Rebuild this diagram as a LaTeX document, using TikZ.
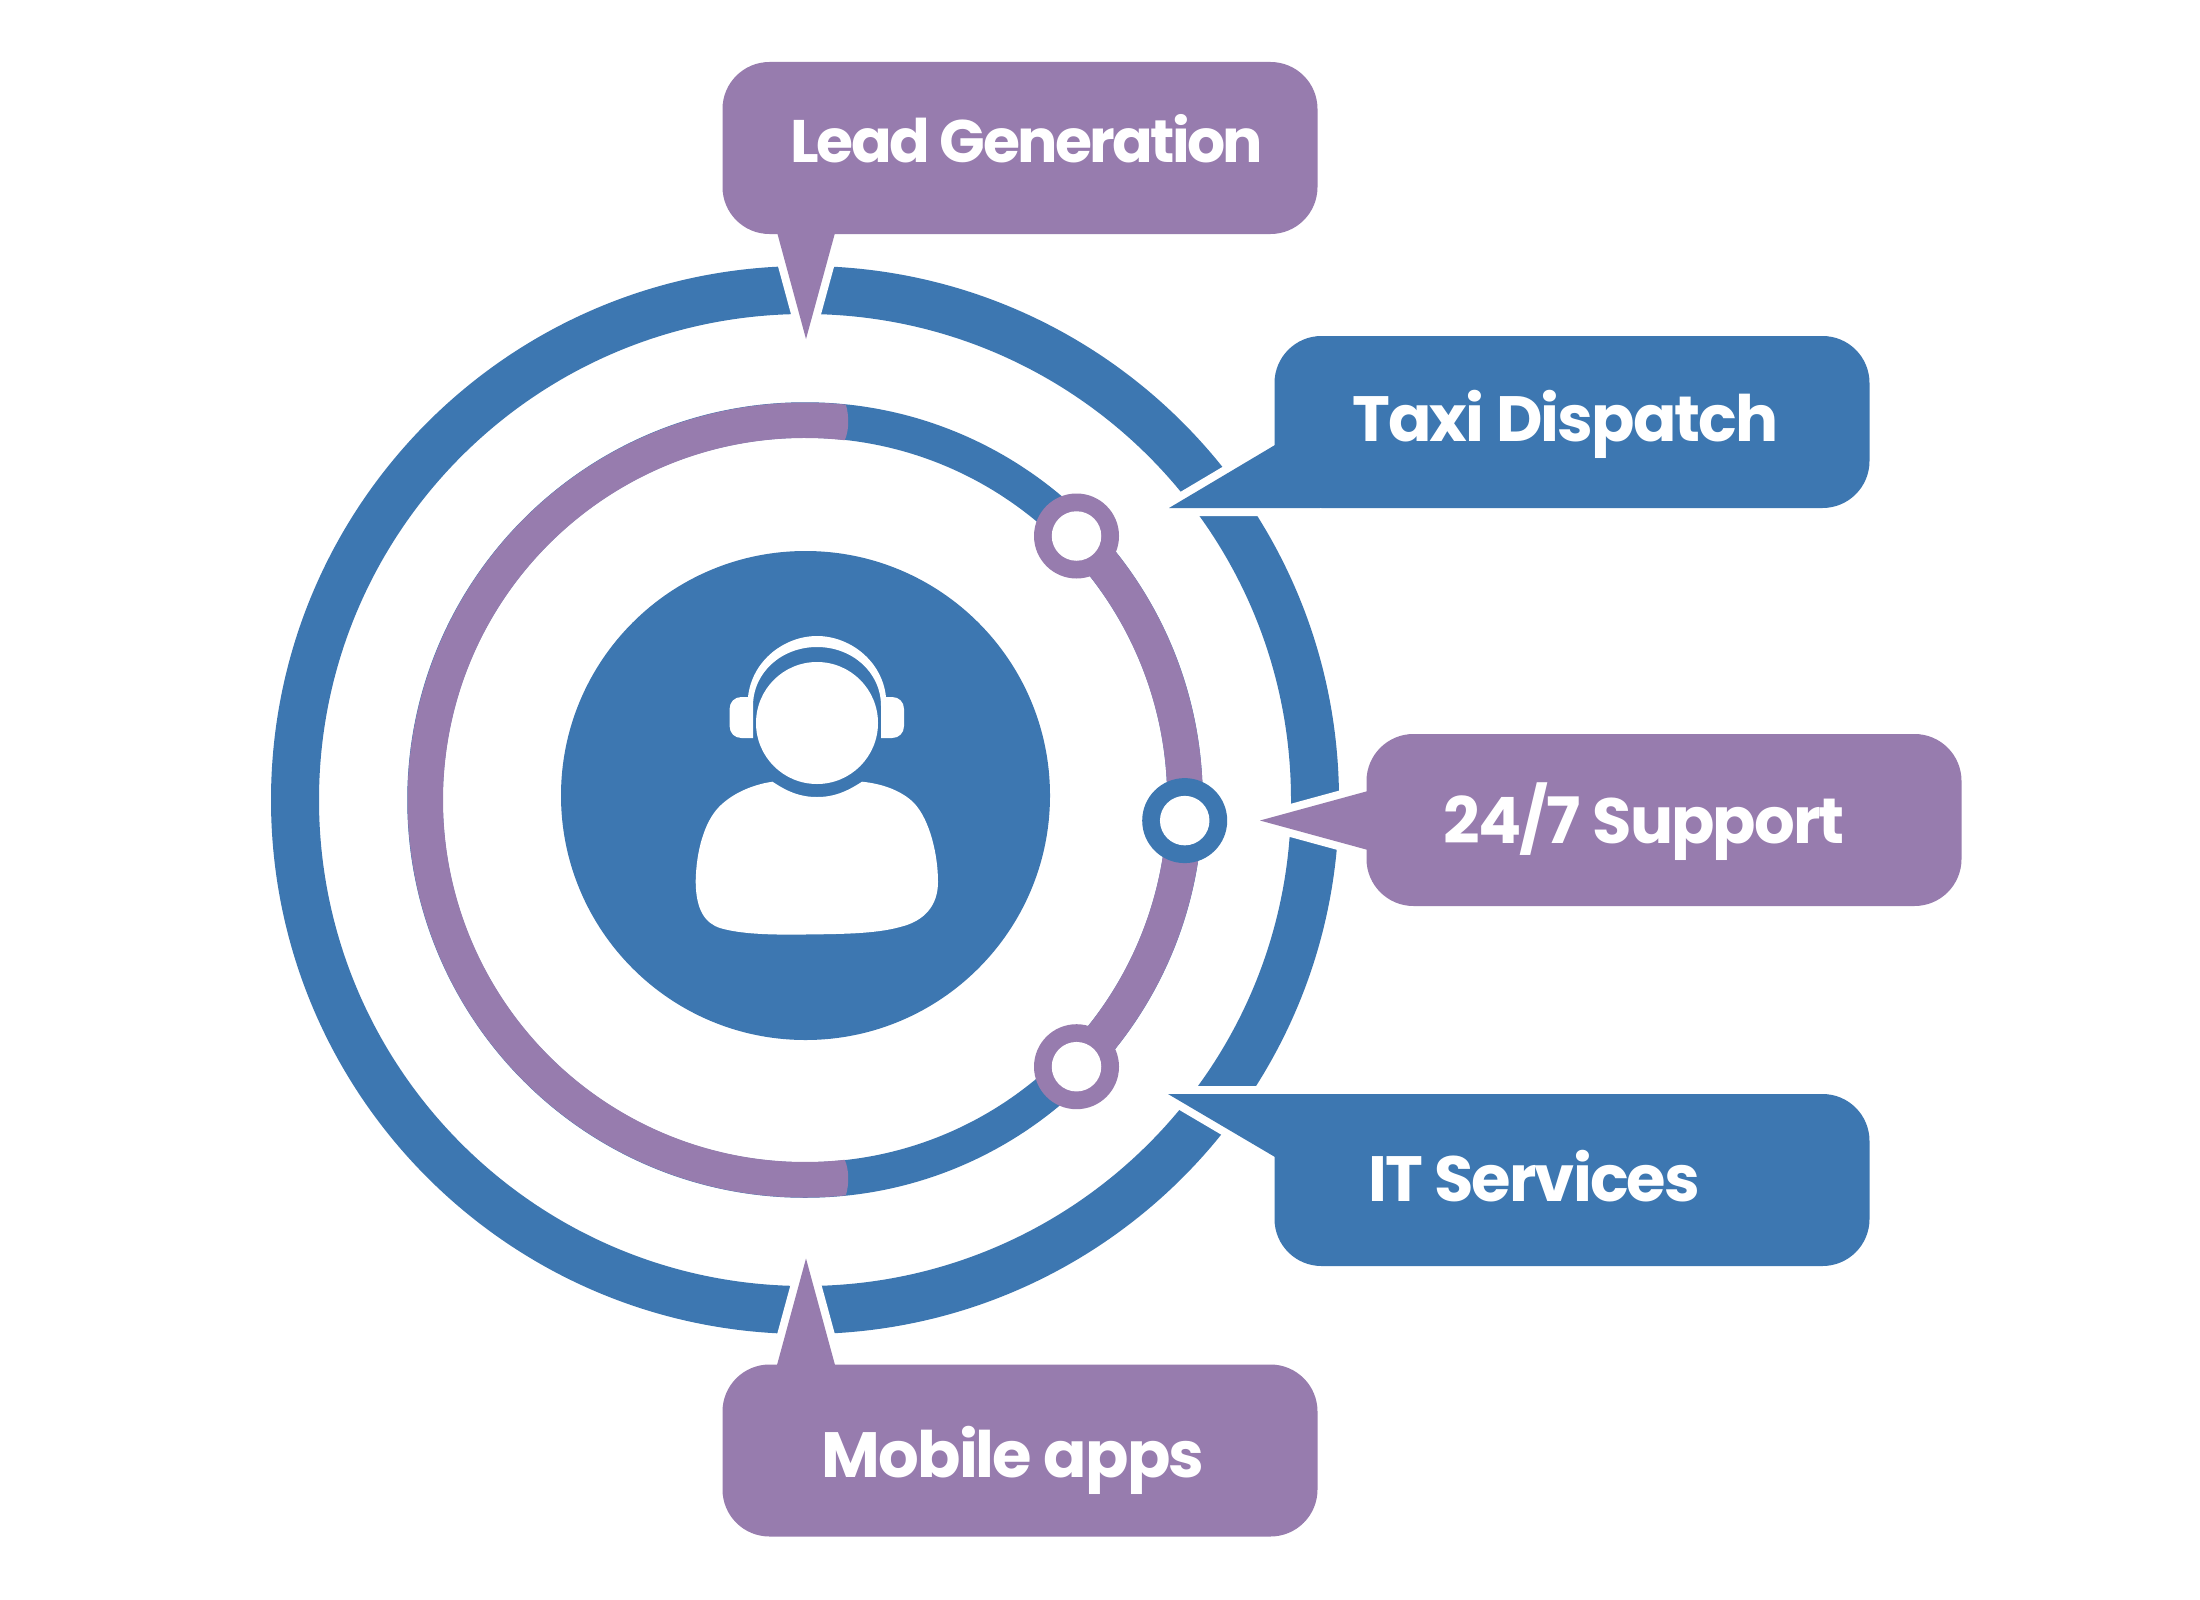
\documentclass[tikz,border=0pt]{standalone}
\usepackage{fontspec}
\newfontfamily\lblfont{Poppins}[LetterSpace=-3.0]
\newfontfamily\leadfont{Poppins}[LetterSpace=-4.4]
\definecolor{cblue}{HTML}{3D77B1}
\definecolor{cpurple}{HTML}{977CAE}
\newcommand{\calloutshape}[4]{%
  \fill[white,draw=white,line width=16pt] #4 -- cycle;
  \node[boxshape,fill=#3,preaction={draw=white,line width=16pt}] (#1) at (#2) {};
  \fill[#3] #4 -- cycle;
}
\begin{document}
\begin{tikzpicture}[x=1pt,y=-1pt,
  boxshape/.style={rectangle,rounded corners=47pt,minimum width=595pt,minimum height=172pt,inner sep=0pt,outer sep=0pt},
  lbl/.style={text=white,anchor=base,inner sep=0pt,outer sep=0pt,font=\lblfont\bfseries\fontsize{64}{64}\selectfont},
  leadlbl/.style={text=white,anchor=base,inner sep=0pt,outer sep=0pt,font=\leadfont\bfseries\fontsize{60}{60}\selectfont},
  hole/.style={circle,fill=white,minimum size=49.5pt,inner sep=0pt,outer sep=0pt},
  ringdot/.style={circle,minimum size=85pt,inner sep=0pt,outer sep=0pt}]
\useasboundingbox (0,0) rectangle (2200,1600);
\fill[white] (0,0) rectangle (2200,1600);
\coordinate (c) at (805,800);
% outer ring
\draw[cblue,line width=48pt] (c) circle[radius=510];
% middle ring
\draw[cblue,line width=35.5pt] (c) circle[radius=380];
\begin{scope}[shift={(805,800)}]
  \fill[cpurple] (84.1:397.5) arc[start angle=84.1,end angle=275.9,radius=397.5]
     .. controls (276.6:386) and (276.8:372) .. (276.3:362)
     arc[start angle=276.3,end angle=83.7,radius=362]
     .. controls (83.2:372) and (83.4:386) .. (84.1:397.5) -- cycle;
  \draw[cpurple,line width=35.5pt] (-47:380) arc[start angle=-47,end angle=47,radius=380];
\end{scope}
% small rings
\node[ringdot,fill=cpurple] (r1) at (1076.5,536) {};
\node[hole] (h1) at (r1) {};
\node[ringdot,fill=cblue] (r2) at (1184.7,820.6) {};
\node[hole] (h2) at (r2) {};
\node[ringdot,fill=cpurple] (r3) at (1076.5,1066.7) {};
\node[hole] (h3) at (r3) {};
% centre disc
\node[circle,fill=cblue,minimum size=489pt,inner sep=0pt,outer sep=0pt] (disc) at (805.5,795.5) {};
% person
\node[circle,fill=white,minimum size=122pt,inner sep=0pt,outer sep=0pt] (head) at (817,723) {};
\fill[white] (753,738) -- (741.5,738) .. controls (734.5,738) and (729.6,733) .. (729.6,726)
  -- (729.6,709) .. controls (729.6,702) and (734.5,697) .. (741.5,697) -- (748,697)
  .. controls (752,660) and (785,636) .. (817,636)
  .. controls (849,636) and (882,660) .. (886,697)
  -- (892,697) .. controls (899,697) and (904,702) .. (904,709)
  -- (904,726) .. controls (904,733) and (899,738) .. (892,738)
  -- (881,738) -- (881,706)
  .. controls (881,672) and (852,647) .. (817,647)
  .. controls (782,647) and (753,672) .. (753,706) -- cycle;
\fill[white] (772.5,781.7) .. controls (788,792) and (800,797) .. (817,797)
  .. controls (834,797) and (846,792) .. (862,781.7)
  .. controls (885,784) and (903,792) .. (914,803)
  .. controls (930,820) and (938,855) .. (938,882)
  .. controls (938,905) and (925,921) .. (900,927)
  .. controls (875,934) and (840,934) .. (805,934.5)
  .. controls (770,935) and (740,934) .. (720,928)
  .. controls (705,923) and (696,910) .. (695.7,882)
  .. controls (696,850) and (705,822) .. (718,808)
  .. controls (730,795) and (750,785) .. (772.5,781.7) -- cycle;
% callouts
\calloutshape{leadbox}{1020,148}{cpurple}{(806,339) -- (834.7,234) -- (834.7,200) -- (777.5,200) -- (777.5,234)}
\calloutshape{taxibox}{1572,422}{cblue}{(1169,508) -- (1275,445) -- (1320,445) -- (1320,508)}
\calloutshape{supportbox}{1664,820}{cpurple}{(1260,820.5) -- (1368,791) -- (1400,791) -- (1400,850) -- (1368,850)}
\calloutshape{itbox}{1572,1180}{cblue}{(1168,1094) -- (1320,1094) -- (1320,1157) -- (1275,1157)}
\calloutshape{mobilebox}{1020,1450.5}{cpurple}{(806,1258.5) -- (835,1365) -- (835,1400) -- (777,1400) -- (777,1365)}
% labels
\node[leadlbl] (leadtxt) at (1027,162) {Lead Generation};
\node[lbl] (taxitxt) at (1565.5,441.7) {Taxi Dispatch};
\node[lbl] (supporttxt) at (1644,843.7) {24/7 Support};
\node[lbl] (ittxt) at (1534,1201) {IT Services};
\node[lbl] (mobiletxt) at (1013,1477) {Mobile apps};
\end{tikzpicture}
\end{document}
